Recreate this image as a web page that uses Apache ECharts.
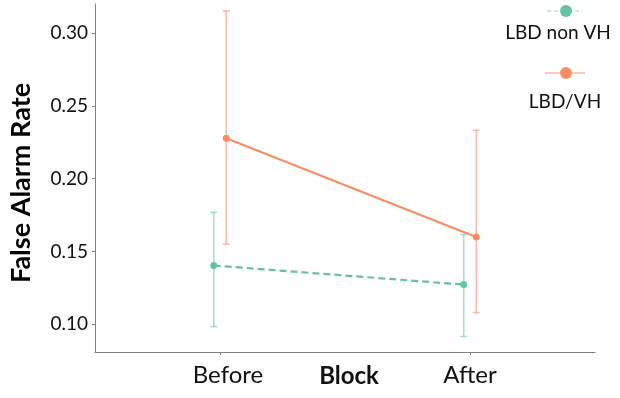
<!DOCTYPE html>
<html><head><meta charset="utf-8">
<script src="https://cdn.jsdelivr.net/npm/echarts@6/dist/echarts.min.js"></script>
<style>html,body{margin:0;padding:0;background:#fff}#c{width:620px;height:398px}</style>
</head><body><div id="c"></div>
<script>
// ---- data ----
var categories = ['Before', 'After'];
var seriesNames = ['LBD non VH', 'LBD/VH'];
var nonVhMean = [0.1404, 0.1273];
var nonVhLow  = [0.0984, 0.0917];
var nonVhHigh = [0.1769, 0.1617];
var vhMean = [0.2278, 0.1600];
var vhLow  = [0.1550, 0.1080];
var vhHigh = [0.3153, 0.2333];
var yTicks = [0.10, 0.15, 0.20, 0.25, 0.30];
var yTitle = 'False Alarm Rate';
var xTitle = 'Block';

var catPos = [1, 2];
var dodge = 0.025;
var GREEN = '#66C2A5', ORANGE = '#FC8D62';
var FONT = 'Lato';

function pts(mean, off){ return mean.map(function(v,i){ return [catPos[i]+off, v]; }); }
function bars(lo, hi, off){ return lo.map(function(v,i){ return [catPos[i]+off, v, hi[i]]; }); }

function errRender(color){
  return function(params, api){
    var x = api.value(0), lo = api.value(1), hi = api.value(2);
    var pLo = api.coord([x, lo]), pHi = api.coord([x, hi]);
    var w = 3.5;
    var st = {stroke: color, lineWidth: 1.6, opacity: 0.55};
    return {type:'group', children:[
      {type:'line', shape:{x1:pLo[0], y1:pLo[1], x2:pHi[0], y2:pHi[1]}, style:st},
      {type:'line', shape:{x1:pLo[0]-w, y1:pLo[1], x2:pLo[0]+w, y2:pLo[1]}, style:st},
      {type:'line', shape:{x1:pHi[0]-w, y1:pHi[1], x2:pHi[0]+w, y2:pHi[1]}, style:st}
    ]};
  };
}

var chart = echarts.init(document.getElementById('c'), null, {renderer:'canvas'});
chart.setOption({
  animation: false,
  grid: {left: 95, right: 25, top: 4, bottom: 46, containLabel: false, outerBoundsMode: 'none'},
  xAxis: {
    type: 'value', min: 0.5, max: 2.5,
    splitLine: {show: false},
    axisLine: {show: true, lineStyle: {color: '#808080', width: 1}},
    axisTick: {show: true, customValues: catPos, length: 3, lineStyle: {color: '#808080'}},
    axisLabel: {
      customValues: catPos, margin: 11, color: '#111', fontFamily: FONT, fontSize: 24,
      formatter: function(v){ var i = catPos.indexOf(v); return i === 0 ? '{p|' + categories[i] + '}' : categories[i]; },
      rich: {p: {fontFamily: FONT, fontSize: 24, color: '#111', padding: [0, 0, 0, 16]}}
    },
    name: xTitle, nameLocation: 'middle', nameGap: 12, nameMoveOverlap: false,
    nameTextStyle: {fontFamily: FONT, fontSize: 24, fontWeight: 'bold', color: '#111', padding: [0, 0, 0, 8], verticalAlign: 'top'}
  },
  yAxis: {
    type: 'value', min: 0.081, max: 0.32,
    splitLine: {show: false},
    axisLine: {show: true, lineStyle: {color: '#808080', width: 1}},
    axisTick: {show: true, customValues: yTicks, length: 3, lineStyle: {color: '#808080'}},
    axisLabel: {customValues: yTicks, margin: 7, color: '#111', fontFamily: FONT, fontSize: 19,
      formatter: function(v){ return v.toFixed(2); }}
  },
  series: [
    {type: 'custom', name: seriesNames[0]+' err', renderItem: errRender(GREEN), data: bars(nonVhLow, nonVhHigh, -dodge), z: 1},
    {type: 'custom', name: seriesNames[1]+' err', renderItem: errRender(ORANGE), data: bars(vhLow, vhHigh, dodge), z: 1},
    {type: 'line', name: seriesNames[0], data: pts(nonVhMean, -dodge), symbol: 'circle', symbolSize: 7,
      itemStyle: {color: GREEN}, lineStyle: {color: GREEN, width: 2.2, type: [7, 4]}, z: 3},
    {type: 'line', name: seriesNames[1], data: pts(vhMean, dodge), symbol: 'circle', symbolSize: 7,
      itemStyle: {color: ORANGE}, lineStyle: {color: ORANGE, width: 2.2}, z: 3}
  ],
  graphic: [
    {type:'text', x: 21, y: 183, rotation: Math.PI/2, style:{text: yTitle, fontFamily: FONT, fontSize: 27, fontWeight: 'bold', fill:'#000', align:'center', verticalAlign:'middle'}},
    {type:'line', shape:{x1:547,y1:11,x2:583,y2:11}, style:{stroke: GREEN, lineWidth: 1.2, lineDash:[4,3], opacity: 0.7}},
    {type:'circle', shape:{cx:566, cy:11, r:6}, style:{fill: GREEN}},
    {type:'text', x: 558, y: 33, style:{text: seriesNames[0], fontFamily: FONT, fontSize: 19, fill:'#111', align:'center', verticalAlign:'middle'}},
    {type:'line', shape:{x1:545,y1:73,x2:585,y2:73}, style:{stroke: ORANGE, lineWidth: 1.2, opacity: 0.9}},
    {type:'circle', shape:{cx:566, cy:73, r:6}, style:{fill: ORANGE}},
    {type:'text', x: 565, y: 102, style:{text: seriesNames[1], fontFamily: FONT, fontSize: 19, fill:'#111', align:'center', verticalAlign:'middle'}}
  ]
});
</script></body></html>
